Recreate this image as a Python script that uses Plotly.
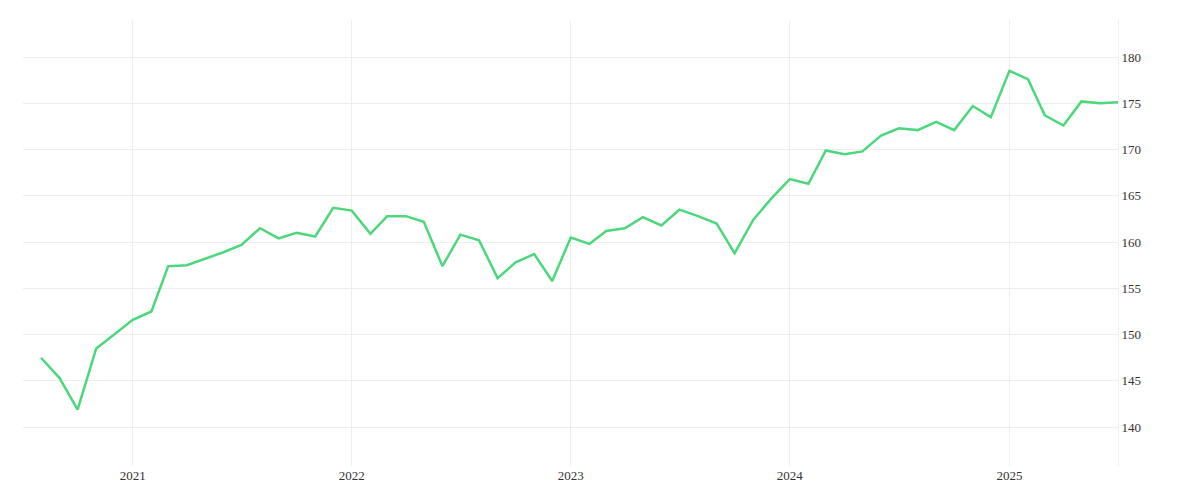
import pandas as pd
import plotly.graph_objects as go

months = pd.date_range("2020-08-01", "2025-07-01", freq="MS")
values = [147.5, 145.3, 141.9, 148.5, 150.0,
          151.6, 152.5, 157.4, 157.5, 158.2, 158.9, 159.7, 161.5, 160.4, 161.0, 160.6, 163.7,
          163.4, 160.9, 162.8, 162.8, 162.2, 157.4, 160.8, 160.2, 156.1, 157.8, 158.7, 155.8,
          160.5, 159.8, 161.2, 161.5, 162.7, 161.8, 163.5, 162.8, 162.0, 158.8, 162.4, 164.7,
          166.8, 166.3, 169.9, 169.5, 169.8, 171.5, 172.3, 172.1, 173.0, 172.1, 174.7, 173.5,
          178.5, 177.6, 173.7, 172.6, 175.2, 175.0, 175.1]

fig = go.Figure(go.Scatter(x=months, y=values, mode="lines",
                           line=dict(color="#4cd77c", width=2.5)))

fig.update_layout(
    width=1200, height=500, plot_bgcolor="white", paper_bgcolor="white",
    margin=dict(l=15, r=90, t=12, b=42), showlegend=False,
    font=dict(family="Liberation Serif, serif", size=13, color="#333"),
)
fig.update_xaxes(range=["2020-07-02", "2025-07-01"], showgrid=True, gridcolor="#eeeeee",
                 dtick="M12", tickformat="%Y", ticks="", showline=False, zeroline=False)
fig.update_yaxes(side="right", range=[135.8, 184], dtick=5, showgrid=True,
                 gridcolor="#eeeeee", zeroline=False, ticks="", showline=True,
                 linecolor="#eeeeee")

fig.write_html("out.html")
